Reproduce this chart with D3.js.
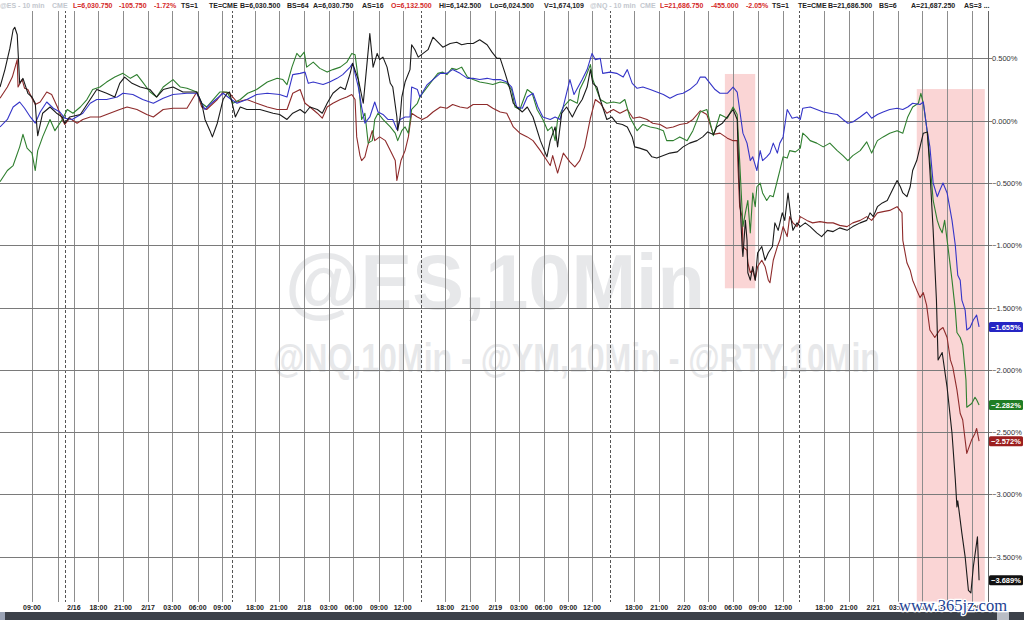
<!DOCTYPE html>
<html><head><meta charset="utf-8">
<script src="https://cdn.jsdelivr.net/npm/d3@7"></script>
<style>html,body{margin:0;padding:0;background:#fff;}svg{display:block;font-family:"Liberation Sans",Arial,sans-serif;}</style>
</head><body><svg id="chart" width="1024" height="620"></svg>
<script>
// ---- time axis (trading hours since start) ----
const tickHours = [3.9,7.1,7.9,9.0,12.0,15.0,18.05,21.0,24.1,27.1,28.3,31.1,34.0,37.1,40.1,43.1,46.2,49.1,51.3,54.3,57.3,60.4,63.3,66.3,69.3,72.2,74.4,77.3,80.4,83.4,86.3,89.4,92.4,95.5,97.4,100.5,103.5,106.5,109.5,112.4,115.5,118.5];
const tickLabels = ["09:00","","","2/16","18:00","21:00","2/17","03:00","06:00","09:00","","18:00","21:00","2/18","03:00","06:00","09:00","12:00","","18:00","21:00","2/19","03:00","06:00","09:00","12:00","","18:00","21:00","2/20","03:00","06:00","09:00","12:00","","18:00","21:00","2/21","03:00","06:00","09:00","12:00"];
const sessionBreaks = [7.9,28.3,51.3,74.4,97.4];
const yTicks = [0.5,0,-0.5,-1,-1.5,-2,-2.5,-3,-3.5];
// highlighted zones: [startHour, endHour, topPct, bottomPct]
const highlightZones = [[88.4,92.1,0.375,-1.345],[111.8,120.1,0.254,-3.86]];

// ---- series: [hour, % change] ----
const seriesBlack = [[0,0.27],[0.6,0.41],[1.2,0.58],[1.6,0.73],[1.8,0.75],[2.1,0.69],[2.4,0.30],[2.8,0.34],[3.4,0.22],[3.9,0.19],[4.3,0.14],[4.5,-0.05],[4.6,-0.12],[5.2,0.06],[6.1,0.11],[6.9,0.06],[7.6,0.03],[7.9,-0.02],[8.5,0.03],[9.8,0.05],[10.4,0.11],[11.0,0.17],[11.8,0.25],[13.0,0.22],[14.0,0.19],[14.6,0.30],[15.2,0.35],[16.1,0.30],[17.1,0.27],[18.3,0.25],[19.1,0.19],[19.9,0.25],[21.1,0.27],[22.3,0.23],[24.0,0.23],[24.6,0.14],[25.0,0.01],[25.6,-0.08],[25.9,-0.13],[26.5,-0.02],[26.8,0.06],[27.2,0.17],[27.7,0.22],[28.0,0.23],[28.7,0.03],[29.3,0.11],[30.1,0.09],[31.7,0.09],[33.3,0.06],[34.1,0.05],[35.0,0.01],[35.7,0.06],[36.6,0.09],[37.2,0.06],[37.8,0.11],[38.7,0.09],[39.3,0.06],[39.9,0.14],[40.6,0.22],[41.5,0.27],[42.1,0.25],[42.7,0.38],[43.0,0.46],[43.7,0.33],[44.3,0.14],[44.8,0.49],[45.1,0.70],[45.5,0.43],[46.0,0.54],[46.3,0.49],[46.7,0.51],[47.2,0.43],[47.6,0.30],[47.9,0.27],[48.4,0.03],[48.5,-0.08],[48.8,0.03],[49.0,0.19],[49.4,0.31],[50.0,0.41],[50.2,0.61],[50.6,0.57],[51.0,0.51],[51.6,0.54],[52.2,0.57],[52.8,0.67],[53.4,0.63],[54.0,0.59],[54.9,0.62],[55.7,0.63],[56.3,0.61],[57.0,0.62],[57.7,0.62],[58.5,0.65],[59.4,0.61],[60.0,0.55],[60.6,0.50],[61.0,0.50],[61.6,0.38],[62.2,0.25],[62.6,0.14],[63.0,0.11],[63.7,0.07],[64.3,0.11],[65.0,0.03],[65.9,-0.16],[66.7,-0.29],[67.1,-0.16],[67.7,-0.05],[68.0,-0.21],[68.5,0.06],[69.1,0.11],[69.8,0.03],[70.4,0.11],[71.0,0.17],[71.6,0.27],[72.0,0.41],[72.3,0.30],[72.8,0.27],[73.2,0.17],[73.5,0.11],[74.0,0.01],[74.6,0.03],[75.2,-0.02],[75.9,-0.03],[76.5,-0.05],[77.1,-0.13],[77.4,-0.21],[78.0,-0.22],[78.9,-0.24],[79.5,-0.29],[80.1,-0.30],[80.9,-0.28],[81.7,-0.26],[82.6,-0.25],[83.3,-0.21],[84.1,-0.18],[85.0,-0.16],[85.7,-0.13],[86.3,-0.09],[87.0,-0.11],[87.4,-0.05],[88.1,-0.02],[88.7,0.03],[89.4,0.09],[89.9,0.01],[90.0,-0.21],[90.2,-0.58],[90.5,-1.01],[90.6,-1.09],[90.9,-0.80],[91.1,-0.96],[91.2,-1.22],[91.5,-1.28],[91.8,-1.17],[92.1,-1.28],[92.4,-1.06],[92.9,-1.01],[93.3,-1.12],[93.7,-1.06],[94.2,-1.01],[94.5,-0.82],[94.9,-0.88],[95.4,-0.74],[95.7,-0.80],[96.1,-0.58],[96.5,-0.80],[96.7,-0.88],[97.2,-0.82],[97.6,-0.85],[98.2,-0.82],[98.8,-0.85],[99.6,-0.90],[100.2,-0.93],[100.9,-0.88],[101.6,-0.89],[102.4,-0.86],[103.3,-0.88],[104.0,-0.85],[104.9,-0.82],[105.7,-0.80],[106.1,-0.74],[106.5,-0.77],[107.0,-0.69],[107.6,-0.66],[108.2,-0.64],[108.8,-0.56],[109.4,-0.48],[109.8,-0.53],[110.1,-0.58],[110.6,-0.61],[111.0,-0.53],[111.3,-0.40],[111.8,-0.32],[112.2,-0.21],[112.6,-0.10],[113.1,-0.09],[113.4,-0.40],[113.8,-0.88],[114.2,-1.44],[114.4,-1.92],[114.9,-1.86],[115.5,-2.14],[116.1,-2.51],[116.5,-2.88],[116.7,-3.10],[116.8,-3.05],[117.3,-3.31],[117.7,-3.50],[118.1,-3.77],[118.4,-3.79],[118.7,-3.58],[119.2,-3.34],[119.4,-3.689]];

const seriesBlue = [[0,-0.05],[0.9,0.01],[1.6,0.11],[2.4,0.15],[3.0,0.10],[3.7,0.03],[4.3,-0.02],[4.9,0.07],[5.7,0.15],[6.5,0.10],[7.3,0.07],[7.9,0.02],[8.8,0.01],[10.1,0.06],[11.0,0.14],[11.8,0.17],[13.0,0.17],[14.3,0.19],[15.0,0.22],[16.2,0.21],[17.4,0.17],[18.7,0.14],[19.9,0.18],[21.1,0.21],[22.8,0.22],[24.0,0.22],[24.6,0.14],[25.0,0.09],[25.6,0.13],[26.5,0.18],[27.2,0.22],[28.0,0.18],[28.9,0.14],[30.1,0.17],[31.3,0.21],[32.6,0.22],[34.1,0.21],[35.0,0.19],[35.7,0.37],[36.6,0.38],[37.2,0.39],[37.6,0.30],[38.2,0.31],[39.4,0.29],[40.2,0.31],[41.1,0.34],[41.8,0.37],[42.7,0.43],[43.0,0.46],[43.7,0.27],[44.1,0.11],[44.5,-0.02],[45.1,0.03],[45.7,0.15],[46.1,0.07],[46.7,0.05],[47.3,0.01],[47.9,0.01],[48.4,-0.07],[48.8,0.01],[49.4,0.03],[50.0,0.03],[50.2,0.27],[50.9,0.25],[51.2,0.19],[52.1,0.29],[52.8,0.33],[53.7,0.38],[54.5,0.38],[55.2,0.41],[56.1,0.38],[57.0,0.34],[57.7,0.34],[58.5,0.33],[59.4,0.34],[60.1,0.33],[61.0,0.33],[61.8,0.31],[62.4,0.27],[63.0,0.11],[63.7,0.10],[64.3,0.19],[65.0,0.22],[65.6,0.11],[66.2,0.03],[67.1,0.01],[67.7,0.03],[68.3,0.01],[68.9,0.17],[69.5,0.33],[70.0,0.21],[70.5,0.27],[71.0,0.33],[71.6,0.41],[72.2,0.54],[72.6,0.49],[73.2,0.50],[73.5,0.38],[74.4,0.39],[75.2,0.38],[76.0,0.35],[76.5,0.41],[77.1,0.30],[77.7,0.26],[78.4,0.27],[79.3,0.25],[80.1,0.23],[80.9,0.21],[81.7,0.18],[82.6,0.21],[83.3,0.22],[84.1,0.25],[85.0,0.30],[85.4,0.35],[86.0,0.35],[86.6,0.30],[87.2,0.25],[87.8,0.22],[88.7,0.22],[89.4,0.27],[89.9,0.23],[90.2,0.09],[90.6,-0.10],[91.1,-0.18],[91.5,-0.32],[91.8,-0.29],[92.3,-0.40],[92.7,-0.24],[93.0,-0.32],[93.5,-0.29],[93.9,-0.26],[94.3,-0.18],[94.8,-0.26],[95.1,-0.18],[95.5,-0.13],[96.0,0.09],[96.6,0.02],[97.2,0.03],[97.6,0.01],[97.9,0.10],[98.8,0.11],[99.6,0.09],[100.4,0.07],[101.2,0.06],[102.1,0.05],[102.8,0.01],[103.4,-0.02],[104.0,-0.01],[104.9,0.03],[105.7,0.07],[106.3,0.02],[107.0,0.05],[107.7,0.07],[108.5,0.09],[109.4,0.10],[110.1,0.09],[110.7,0.11],[111.3,0.14],[112.2,0.13],[112.6,0.15],[113.0,-0.05],[113.4,-0.21],[113.8,-0.50],[114.3,-0.61],[114.6,-0.56],[115.0,-0.50],[115.5,-0.58],[116.1,-0.80],[116.5,-1.00],[116.8,-1.24],[117.1,-1.28],[117.3,-1.44],[117.7,-1.52],[117.9,-1.68],[118.3,-1.66],[118.7,-1.60],[119.1,-1.56],[119.4,-1.655]];

const seriesGreen = [[0,-0.49],[0.9,-0.40],[1.6,-0.36],[2.4,-0.21],[2.8,-0.11],[3.3,-0.22],[3.9,-0.26],[4.3,-0.40],[4.6,-0.24],[5.2,-0.13],[6.1,0.01],[6.7,-0.08],[7.6,0.01],[8.2,0.09],[8.9,0.06],[9.8,0.11],[10.6,0.17],[11.3,0.25],[12.2,0.27],[13.0,0.31],[14.0,0.35],[15.0,0.38],[15.9,0.34],[16.7,0.37],[17.4,0.31],[18.3,0.23],[19.1,0.19],[19.9,0.27],[21.1,0.33],[22.0,0.27],[22.8,0.26],[24.0,0.23],[24.6,0.14],[25.2,0.11],[26.0,0.17],[26.8,0.23],[27.7,0.23],[28.4,0.14],[29.3,0.17],[30.2,0.22],[31.3,0.25],[32.6,0.31],[33.8,0.34],[34.5,0.33],[35.0,0.29],[35.6,0.43],[36.2,0.54],[36.6,0.51],[37.1,0.55],[37.4,0.43],[38.2,0.47],[39.0,0.42],[39.9,0.39],[40.6,0.41],[41.5,0.43],[42.3,0.47],[42.9,0.54],[43.3,0.53],[43.7,0.33],[44.1,0.01],[44.5,0.06],[44.9,-0.18],[45.4,-0.16],[45.7,0.01],[46.1,0.06],[46.7,0.01],[47.6,-0.05],[48.2,-0.10],[48.5,-0.16],[49.0,-0.08],[49.4,-0.05],[49.8,-0.10],[50.2,0.09],[50.9,0.14],[51.2,0.19],[52.1,0.27],[52.8,0.33],[53.4,0.38],[54.0,0.39],[54.5,0.37],[55.1,0.42],[55.7,0.41],[56.3,0.43],[57.0,0.35],[57.7,0.33],[58.5,0.31],[59.4,0.30],[60.1,0.29],[61.0,0.31],[61.8,0.30],[62.4,0.25],[62.8,0.11],[63.4,0.09],[64.3,0.25],[64.9,0.22],[65.5,0.09],[66.2,0.01],[66.8,-0.08],[67.3,-0.05],[67.7,-0.16],[68.0,0.01],[68.7,0.11],[69.5,0.17],[70.4,0.14],[70.7,0.25],[71.3,0.33],[72.0,0.45],[72.3,0.33],[73.2,0.17],[74.0,0.14],[74.8,0.15],[75.6,0.14],[76.2,0.17],[76.8,0.03],[77.7,-0.08],[78.4,-0.03],[79.3,-0.05],[80.1,-0.06],[80.9,-0.08],[81.3,-0.16],[82.1,-0.16],[82.9,-0.13],[83.8,-0.16],[84.5,-0.08],[85.4,0.07],[86.2,0.09],[87.0,-0.12],[87.8,0.05],[88.7,0.02],[89.4,0.11],[89.9,0.05],[90.2,-0.32],[90.6,-0.85],[90.9,-0.74],[91.2,-0.64],[91.5,-0.90],[91.8,-0.58],[92.1,-0.69],[92.3,-0.53],[92.7,-0.50],[93.0,-0.58],[93.5,-0.64],[93.9,-0.60],[94.3,-0.61],[94.8,-0.48],[95.1,-0.40],[95.5,-0.29],[96.0,-0.30],[96.3,-0.24],[97.0,-0.25],[97.6,-0.22],[97.9,-0.10],[98.4,-0.13],[98.8,-0.16],[99.6,-0.18],[100.4,-0.21],[101.2,-0.18],[102.1,-0.24],[102.8,-0.28],[103.4,-0.32],[104.0,-0.28],[104.9,-0.24],[105.7,-0.17],[106.3,-0.26],[107.0,-0.16],[107.7,-0.13],[108.5,-0.10],[109.4,-0.08],[110.1,-0.10],[110.7,0.03],[111.3,0.11],[112.0,0.14],[112.3,0.22],[112.6,0.14],[113.0,-0.05],[113.4,-0.32],[113.8,-0.64],[114.3,-0.80],[114.6,-0.86],[114.9,-0.90],[115.2,-0.80],[115.6,-1.01],[116.1,-1.28],[116.5,-1.52],[116.7,-1.70],[117.1,-1.74],[117.4,-1.80],[117.8,-2.08],[117.9,-2.30],[118.3,-2.28],[118.5,-2.27],[118.9,-2.22],[119.1,-2.24],[119.4,-2.282]];

const seriesBrown = [[0,0.18],[0.9,0.27],[1.5,0.35],[2.1,0.49],[2.2,0.27],[2.7,0.33],[3.0,0.26],[3.4,0.25],[3.9,0.18],[4.3,0.13],[4.9,0.15],[5.7,0.23],[6.3,0.21],[7.0,0.11],[7.6,0.01],[7.9,-0.03],[8.5,0.02],[9.4,-0.02],[10.1,0.01],[11.0,0.03],[12.2,0.03],[13.4,0.06],[14.6,0.09],[15.5,0.11],[16.7,0.09],[17.9,0.05],[18.7,0.03],[19.9,0.09],[21.1,0.10],[22.8,0.10],[24.0,0.23],[24.6,0.11],[25.2,0.09],[26.5,0.17],[27.2,0.23],[28.0,0.22],[28.9,0.15],[30.1,0.17],[31.3,0.14],[32.6,0.11],[33.8,0.09],[35.0,0.09],[35.7,0.22],[36.6,0.25],[37.2,0.14],[37.8,0.11],[38.7,0.06],[39.3,0.02],[39.9,0.11],[40.6,0.14],[41.5,0.17],[42.3,0.19],[42.9,0.21],[43.3,0.17],[43.5,-0.13],[43.9,-0.28],[44.1,-0.32],[44.5,-0.29],[44.8,-0.21],[45.4,-0.08],[45.7,-0.16],[46.3,-0.13],[47.0,-0.16],[47.6,-0.24],[48.2,-0.32],[48.4,-0.48],[48.9,-0.32],[49.4,-0.24],[49.8,-0.13],[50.2,0.06],[50.9,0.03],[51.5,0.01],[52.1,0.03],[52.8,0.07],[53.7,0.11],[54.5,0.10],[55.2,0.13],[56.1,0.11],[57.0,0.10],[57.7,0.13],[58.5,0.13],[59.4,0.13],[60.1,0.10],[61.0,0.07],[61.8,0.06],[62.6,-0.05],[63.4,-0.10],[64.3,-0.13],[65.0,-0.16],[65.9,-0.24],[66.7,-0.32],[67.1,-0.36],[67.4,-0.28],[68.0,-0.42],[68.7,-0.26],[69.5,-0.33],[70.1,-0.37],[70.7,-0.32],[71.3,-0.21],[72.0,0.02],[72.6,0.17],[73.2,0.14],[74.0,0.06],[74.8,0.09],[75.6,0.06],[76.5,0.09],[77.2,0.02],[78.0,0.03],[78.9,0.01],[79.6,-0.02],[80.5,-0.03],[81.3,-0.06],[82.1,-0.05],[82.9,-0.03],[83.8,-0.02],[84.5,0.01],[85.4,0.08],[86.2,0.05],[87.0,-0.11],[87.8,-0.10],[88.7,-0.14],[89.4,-0.16],[89.9,-0.16],[90.0,-0.37],[90.2,-0.69],[90.5,-0.77],[90.6,-1.01],[91.1,-1.04],[91.2,-1.14],[91.5,-1.22],[91.8,-1.20],[92.1,-1.28],[92.4,-1.17],[92.9,-1.12],[93.3,-1.17],[93.7,-1.28],[93.9,-1.30],[94.3,-1.12],[94.8,-1.01],[95.1,-0.96],[95.5,-0.85],[96.0,-0.93],[96.3,-0.77],[96.7,-0.82],[97.2,-0.85],[97.6,-0.77],[98.4,-0.80],[99.1,-0.82],[100.0,-0.81],[100.9,-0.82],[101.6,-0.82],[102.4,-0.84],[103.3,-0.85],[104.0,-0.82],[104.9,-0.80],[105.7,-0.77],[106.3,-0.80],[107.0,-0.74],[107.7,-0.73],[108.5,-0.72],[109.4,-0.69],[110.0,-0.74],[110.1,-0.96],[110.6,-1.14],[111.0,-1.20],[111.3,-1.28],[111.8,-1.36],[112.2,-1.42],[112.6,-1.38],[113.0,-1.48],[113.4,-1.68],[114.0,-1.74],[114.6,-1.68],[115.0,-1.66],[115.5,-1.74],[115.9,-1.92],[116.2,-1.98],[116.7,-2.16],[117.1,-2.35],[117.4,-2.40],[117.9,-2.67],[118.5,-2.56],[118.9,-2.51],[119.1,-2.47],[119.4,-2.572]];

const seriesList = [
  {name:"brown", data:seriesBrown, line:"#8e2b2b", badge:"#9c1f1f"},
  {name:"green", data:seriesGreen, line:"#2f7f2f", badge:"#1f7d25"},
  {name:"blue", data:seriesBlue, line:"#3535c8", badge:"#2525c4"},
  {name:"black", data:seriesBlack, line:"#1a1a1a", badge:"#111111"}
];

const headerItems = [
  ["@ES - 10 min","#c3c7ce",0],["CME","#c3c7ce",52],["L=6,030.750","#d42a2a",73],["-105.750","#d42a2a",119],["-1.72%","#d42a2a",154],
  ["TS=1","#222",181],["TE=CME","#222",209],["B=6,030.500","#222",240],["BS=64","#222",287],["A=6,030.750","#222",313],["AS=16","#222",362],
  ["O=6,132.500","#d42a2a",391],["Hi=6,142.500","#222",439],["Lo=6,024.500","#222",490],["V=1,674,109","#222",544],
  ["@NQ - 10 min","#c3c7ce",590],["CME","#c3c7ce",640],["L=21,686.750","#d42a2a",660],["-455.000","#d42a2a",711],["-2.05%","#d42a2a",746],
  ["TS=1","#222",772],["TE=CME","#222",798],["B=21,686.500","#222",828],["BS=6","#222",879],["A=21,687.250","#222",911],["AS=3 ...","#222",964]
];

// ---- drawing ----
const svg = d3.select("#chart");
const W = 1024, H = 620;
const plotRight = 988, plotBottom = 602;
const x = d3.scaleLinear().domain([0,120]).range([0,984]);
const y = d3.scaleLinear().domain([-3.5,0.5]).range([556.8,58.4]);

svg.append("rect").attr("width",W).attr("height",H).attr("fill","#fff");

// watermarks: fit each to its measured span
function fitText(txt, x0, width, base, size){
  const t = svg.append("text").attr("font-size",size).attr("font-weight","bold").attr("fill","#e7e8ea").text(txt);
  const w = t.node().getComputedTextLength();
  t.attr("transform",`translate(${x0},${base}) scale(${width/w},1)`);
}
fitText("@ES,10Min", 285, 420, 309, 78);
fitText("@NQ,10Min - @YM,10Min - @RTY,10Min", 273, 607, 372, 40);

// highlight zones
svg.append("g").selectAll("rect").data(highlightZones).join("rect")
  .attr("x",d=>x(d[0])).attr("width",d=>x(d[1])-x(d[0]))
  .attr("y",d=>y(d[2])).attr("height",d=>Math.min(y(d[3]),plotBottom)-y(d[2]))
  .attr("fill","#f08a8a").attr("opacity",0.36);

// vertical grid
const grid = svg.append("g");
tickHours.forEach((t)=>{
  const dashed = sessionBreaks.includes(t);
  grid.append("line").attr("x1",Math.round(x(t))+0.5).attr("x2",Math.round(x(t))+0.5).attr("y1",0).attr("y2",plotBottom)
    .attr("stroke",dashed?"#555":"#8d8d8d").attr("stroke-width",1)
    .attr("stroke-dasharray",dashed?"3,2":null);
});
// horizontal grid + right axis
yTicks.forEach(v=>{
  grid.append("line").attr("x1",0).attr("x2",992).attr("y1",Math.round(y(v))+0.5).attr("y2",Math.round(y(v))+0.5)
    .attr("stroke","#7a7a7a").attr("stroke-width",1);
});
const yAxis = d3.axisRight(y).tickValues(yTicks).tickSize(0).tickFormat(d=>d3.format(".3f")(d)+"%");
const ya = svg.append("g").attr("transform",`translate(${plotRight+4},0)`).call(yAxis);
ya.select(".domain").remove();
ya.selectAll("text").attr("font-size",7.5).attr("fill","#333").attr("x",0).attr("font-family","Liberation Sans, Arial");
svg.append("line").attr("x1",plotRight+0.5).attr("x2",plotRight+0.5).attr("y1",0).attr("y2",plotBottom)
  .attr("stroke","#666");

// lines
const lineGen = d3.line().x(d=>x(d[0])).y(d=>y(d[1]));
seriesList.forEach(s=>{
  svg.append("path").datum(s.data).attr("d",lineGen).attr("fill","none")
    .attr("stroke",s.line).attr("stroke-width",1.1).attr("stroke-linejoin","round");
});

// value badges
seriesList.forEach(s=>{
  const last = s.data[s.data.length-1][1];
  const g = svg.append("g").attr("transform",`translate(${plotRight+1},${y(last)})`);
  g.append("rect").attr("x",0).attr("y",-5).attr("width",34).attr("height",10).attr("rx",1.5).attr("fill",s.badge);
  g.append("text").attr("x",2).attr("y",0).attr("dy","0.35em").attr("font-size",7.5).attr("font-weight","bold")
    .attr("fill","#fff").text(d3.format(".3f")(last)+"%");
});

// header band
svg.append("rect").attr("x",0).attr("y",0).attr("width",W).attr("height",11).attr("fill","#fff");
svg.append("g").selectAll("text").data(headerItems).join("text")
  .attr("x",d=>d[2]).attr("y",8).attr("font-size",7).attr("font-weight","bold")
  .attr("fill",d=>d[1]).text(d=>d[0]);

// bottom time labels
svg.append("g").selectAll("text").data(tickHours.map((t,i)=>[t,tickLabels[i]]).filter(d=>d[1]!==""))
  .join("text").attr("x",d=>x(d[0])).attr("y",610).attr("text-anchor","middle")
  .attr("font-size",7).attr("font-weight","bold").attr("fill","#222").text(d=>d[1]);

// bottom bar
svg.append("rect").attr("x",0).attr("y",612).attr("width",W).attr("height",8).attr("fill","#3c4149");
svg.append("rect").attr("x",0).attr("y",612).attr("width",5).attr("height",8).attr("fill","#9aa3b5");
svg.append("rect").attr("x",997).attr("y",612).attr("width",12).attr("height",8).attr("fill","#b9bdc5");

// site watermark
svg.append("text").attr("x",899).attr("y",611).attr("font-size",16.5).attr("font-family","Liberation Serif, DejaVu Serif, serif")
  .attr("fill","#1d3f93").attr("stroke","#fff").attr("stroke-width",2.5).attr("paint-order","stroke")
  .attr("textLength",108).attr("lengthAdjust","spacingAndGlyphs").text("www.365jz.com");
</script></body></html>
